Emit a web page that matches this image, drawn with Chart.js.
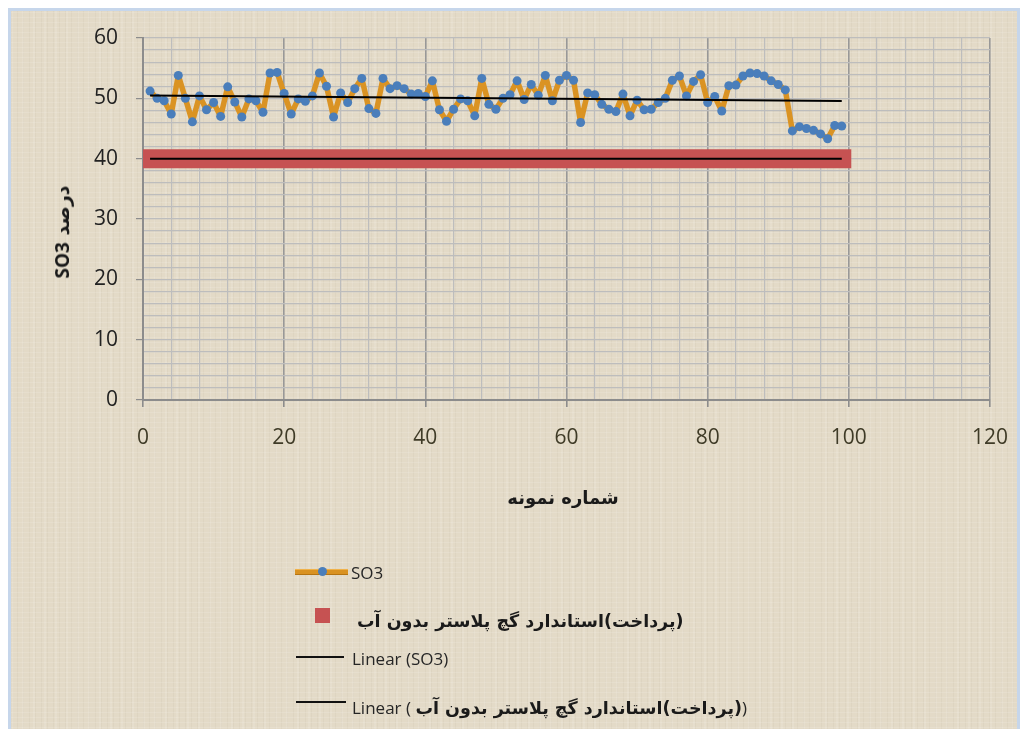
<!DOCTYPE html>
<html>
<head>
<meta charset="utf-8">
<script src="https://cdn.jsdelivr.net/npm/chart.js@4.4.1/dist/chart.umd.min.js"></script>
<style>
  html, body { margin: 0; padding: 0; background: #fff; width: 1026px; height: 729px; overflow: hidden; }
  #frame {
    position: absolute; left: 8px; top: 8px; width: 1012px; height: 730px;
    box-sizing: border-box; border: 3px solid #c6d6eb; border-bottom: none;
    background-color: #e3dac7;
    background-image:
      repeating-linear-gradient(0deg, rgba(255,255,255,0.12) 0px, rgba(255,255,255,0.12) 1px, transparent 1px, transparent 5px),
      repeating-linear-gradient(90deg, rgba(120,105,80,0.05) 0px, rgba(120,105,80,0.05) 1px, transparent 1px, transparent 6px),
      repeating-linear-gradient(90deg, rgba(255,255,255,0.10) 0px, rgba(255,255,255,0.10) 2px, transparent 2px, transparent 11px);
  }
  #wrap { position: absolute; left: 0; top: 0; width: 1026px; height: 729px; }
  .fa { font-family: "DejaVu Sans", sans-serif; font-weight: bold; color: #1a1a1a; }
  .lat { font-family: "Open Sans", sans-serif; color: #262626; }
  #ytitle {
    position: absolute; left: 62px; top: 232px; transform: translate(-50%, -50%) rotate(-90deg);
    white-space: nowrap; font-size: 19px;
  }
  #xtitle { position: absolute; left: 563px; top: 497px; transform: translate(-50%, -50%); white-space: nowrap; font-size: 18px; }
  .swatch { position: absolute; }
  .ltxt { position: absolute; transform: translateY(-50%); white-space: nowrap; }
</style>
</head>
<body>
<div id="frame"></div>
<div id="wrap"><canvas id="so3Chart" width="1026" height="729"></canvas></div>

<div id="ytitle" class="fa" dir="rtl">درصد <span style="font-family:'Open Sans',sans-serif;font-weight:bold">SO3</span></div>
<div id="xtitle" class="fa" dir="rtl">شماره نمونه</div>

<!-- legend -->
<div class="swatch" style="left:295px; top:569px; width:53px; height:4px; background:#d99222; border-top:1px solid #f0b24a; border-bottom:1px solid #b57412;"></div>
<div class="swatch" style="left:318px; top:567px; width:9px; height:9px; border-radius:50%; background:#4a7ebb;"></div>
<div class="ltxt lat" style="left:351px; top:572px; font-size:17px;">SO3</div>

<div class="swatch" style="left:315px; top:608px; width:15px; height:15px; background:#c65252;"></div>
<div class="ltxt fa" dir="rtl" style="left:357px; top:621px; font-size:17.5px;">(پرداخت)استاندارد گچ پلاستر بدون آب</div>

<div class="swatch" style="left:296px; top:656px; width:48px; height:2px; background:#111;"></div>
<div class="ltxt lat" style="left:352px; top:658px; font-size:17px;">Linear (SO3)</div>

<div class="swatch" style="left:296px; top:701px; width:50px; height:2px; background:#111;"></div>
<div class="ltxt" style="left:352px; top:707px;"><span class="lat" style="font-size:17px;">Linear ( </span><span class="fa" dir="rtl" style="font-size:17.5px; unicode-bidi:isolate;">(پرداخت)استاندارد گچ پلاستر بدون آب</span><span class="lat" style="font-size:17px;">)</span></div>

<script>
    // SO3 percentage per sample
    const so3Values = [
        51.2, 50.0, 49.6, 47.4, 53.8, 50.0, 46.1, 50.4, 48.1, 49.3,
        47.0, 51.9, 49.4, 46.9, 49.9, 49.6, 47.7, 54.2, 54.3, 50.8,
        47.4, 49.9, 49.5, 50.4, 54.2, 52.0, 46.9, 50.9, 49.3, 51.6,
        53.3, 48.3, 47.5, 53.3, 51.6, 52.1, 51.6, 50.7, 50.8, 50.3,
        52.9, 48.1, 46.2, 48.2, 49.9, 49.6, 47.1, 53.3, 49.0, 48.2,
        50.0, 50.6, 52.9, 49.8, 52.3, 50.5, 53.8, 49.6, 53.0, 53.8,
        53.0, 46.0, 50.9, 50.6, 49.0, 48.2, 47.8, 50.7, 47.1, 49.7,
        48.1, 48.2, 49.3, 50.0, 53.0, 53.7, 50.4, 52.8, 53.9, 49.3,
        50.3, 47.9, 52.1, 52.2, 53.7, 54.2, 54.1, 53.7, 52.9, 52.3,
        51.4, 44.6, 45.3, 45.0, 44.7, 44.1, 43.3, 45.5, 45.4
    ];
    const sampleNumbers = so3Values.map((v, i) => i + 1);

    // gypsum plaster standard (anhydrous) limit
    const standardLimit = 40;

    const xTicksMajor = [0, 20, 40, 60, 80, 100, 120];
    const yTicksMajor = [0, 10, 20, 30, 40, 50, 60];

    const firstSample = sampleNumbers[0];
    const lastSample = sampleNumbers[sampleNumbers.length - 1];

    // least squares trend for SO3
    const linearFit = (xs, ys) => {
        const n = xs.length;
        const mx = xs.reduce((a, b) => a + b, 0) / n;
        const my = ys.reduce((a, b) => a + b, 0) / n;
        let sxy = 0, sxx = 0;
        for (let i = 0; i < n; i++) {
            sxy += (xs[i] - mx) * (ys[i] - my);
            sxx += (xs[i] - mx) * (xs[i] - mx);
        }
        const slope = sxy / sxx;
        return x => my + slope * (x - mx);
    };
    const so3Trend = linearFit(sampleNumbers, so3Values);

    const tickFont = { family: "'Open Sans', sans-serif", size: 21 };

    const ctx = document.getElementById('so3Chart').getContext('2d');
    new Chart(ctx, {
        type: 'line',
        data: {
            datasets: [
                {
                    label: 'SO3',
                    data: sampleNumbers.map((x, i) => ({ x: x, y: so3Values[i] })),
                    borderColor: '#da9323',
                    borderWidth: 5.5,
                    borderJoinStyle: 'round',
                    borderCapStyle: 'round',
                    pointRadius: 4.5,
                    pointBackgroundColor: '#4a7ebb',
                    pointBorderColor: '#4a7ebb',
                    pointBorderWidth: 0,
                    tension: 0,
                    order: 2
                },
                {
                    label: '(پرداخت)استاندارد گچ پلاستر بدون آب',
                    data: [{ x: firstSample, y: standardLimit }, { x: lastSample, y: standardLimit }],
                    borderColor: '#c65252',
                    borderWidth: 19,
                    borderCapStyle: 'square',
                    pointRadius: 0,
                    order: 3
                },
                {
                    label: 'Linear (SO3)',
                    data: [{ x: firstSample, y: so3Trend(firstSample) }, { x: lastSample, y: so3Trend(lastSample) }],
                    borderColor: '#000',
                    borderWidth: 2,
                    pointRadius: 0,
                    order: 0
                },
                {
                    label: 'Linear standard',
                    data: [{ x: firstSample, y: standardLimit }, { x: lastSample, y: standardLimit }],
                    borderColor: '#000',
                    borderWidth: 2,
                    pointRadius: 0,
                    order: 0
                }
            ]
        },
        options: {
            responsive: false,
            animation: false,
            layout: { padding: { left: 0, top: 38, right: 36, bottom: 0 } },
            plugins: {
                legend: { display: false },
                tooltip: { enabled: false }
            },
            scales: {
                x: {
                    type: 'linear',
                    min: 0,
                    max: 120,
                    afterFit: (scale) => { scale.height = 329; },
                    ticks: {
                        stepSize: 4,
                        autoSkip: false,
                        maxRotation: 0,
                        padding: 18,
                        color: '#3f3b27',
                        font: tickFont,
                        callback: (v) => xTicksMajor.includes(v) ? v : ''
                    },
                    grid: {
                        color: (c) => xTicksMajor.includes(c.tick.value) ? '#989898' : '#bdbdbd',
                        lineWidth: (c) => xTicksMajor.includes(c.tick.value) ? 1.6 : 1.2,
                        tickLength: 7,
                        tickColor: (c) => xTicksMajor.includes(c.tick.value) ? '#8c8c8c' : 'rgba(0,0,0,0)'
                    },
                    border: { color: '#8c8c8c', width: 2 }
                },
                y: {
                    min: 0,
                    max: 60,
                    afterFit: (scale) => { scale.width = 143; },
                    ticks: {
                        stepSize: 2,
                        autoSkip: false,
                        padding: 18,
                        color: '#222',
                        font: tickFont,
                        callback: (v) => yTicksMajor.includes(v) ? v : ''
                    },
                    grid: {
                        color: '#bdbdbd',
                        lineWidth: 1.2,
                        tickLength: 7,
                        tickColor: (c) => yTicksMajor.includes(c.tick.value) ? '#8c8c8c' : 'rgba(0,0,0,0)'
                    },
                    border: { color: '#8c8c8c', width: 2 }
                }
            }
        }
    });
</script>
</body>
</html>
